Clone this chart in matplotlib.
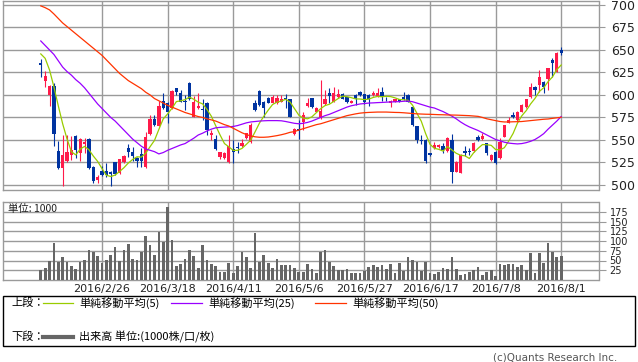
import matplotlib
matplotlib.use('Agg')
import matplotlib.pyplot as plt
import numpy as np
import pandas as pd
from matplotlib.lines import Line2D
from matplotlib.patches import Rectangle

plt.rcParams['font.family'] = ['Noto Sans CJK JP', 'DejaVu Sans']

# ---------------- data ----------------
holidays = ['2016-02-11', '2016-03-21', '2016-04-29', '2016-05-03',
            '2016-05-04', '2016-05-05', '2016-07-18']
dates = pd.bdate_range('2016-02-05', '2016-08-01')
dates = dates[~dates.isin(pd.to_datetime(holidays))]

opens = [636, 615.5, 600, 610, 538, 519, 527, 533, 554, 535,
         546, 551, 520, 505, 516, 516, 514, 525, 513, 525,
         540.7, 537, 529.6, 534, 520.4, 556.3, 573.3, 565.6, 593.3, 590.7,
         585.2, 607.4, 602, 593.3, 613.7, 576, 585.2, 584, 591.5, 555.6,
         551, 531.5, 529.6, 526, 539.6, 542, 543.3, 552, 548, 590.7,
         604.4, 592.6, 597, 591.5, 590.7, 592.6, 597, 595.2, 556.3, 562,
         570.4, 588, 596.3, 581.5, 574, 590, 602.6, 592.6, 598, 601,
         597.4, 591.5, 600, 603.7, 600.7, 600, 600, 599, 603.7, 596,
         590.7, 592.6, 595, 598, 600, 587, 565, 550, 550, 535.2,
         540.7, 542, 543.3, 537.8, 550, 514.8, 513.7, 537.8, 538, 537.8,
         553.7, 550.7, 546.3, 527.8, 537, 529.6, 553.7, 569.3, 577.8, 572,
         581.5, 587, 598, 609.3, 611, 614.8, 617.4, 639, 626, 650]
highs = [640, 627, 611, 613, 549, 556, 556, 554, 555, 552,
         552, 552, 521, 511, 521, 524, 515, 526, 529, 533,
         546, 542.6, 531, 540.7, 559, 578, 578, 593, 602, 592,
         605, 608, 605.6, 600, 614, 599, 602, 596, 592, 561,
         555.6, 537, 537, 555.6, 550, 548, 551, 558, 568.5, 594.4,
         605, 593, 598, 600, 600, 600, 601, 596, 563, 572,
         581.5, 596.3, 597, 587, 616.7, 605.6, 608, 609, 607, 602,
         598, 594, 601, 604, 601, 601, 604, 607.4, 609, 598,
         594, 596, 596, 603, 601, 588, 566, 556, 551, 536,
         548, 546, 546.3, 553, 556.3, 527, 534, 543.3, 541, 548,
         556, 557.4, 547, 534, 538, 552, 567, 576, 581.5, 582,
         590, 596, 613, 610, 627.8, 616, 630, 640.7, 648, 653.7]
lows = [620, 609, 588, 543, 518, 499, 526, 528, 530, 527,
        535, 518, 502, 502, 510, 509, 499, 511, 512, 524,
        531.5, 527, 520, 520.4, 519, 555, 566, 565, 584, 568.5,
        584, 600, 592, 583, 594, 575, 584, 572, 555.6, 550,
        539, 528.5, 529, 524.8, 524, 535, 542, 551, 547, 582,
        588, 576, 591, 591, 590, 592, 585, 575, 555, 550.7,
        561, 587, 586, 581, 573, 589, 591, 592, 597, 595,
        591, 591, 589, 599, 590, 588, 599, 598, 593, 593,
        587, 592, 592, 594, 592, 566, 546.3, 545, 524.8, 532,
        540, 541, 536, 537, 502.6, 514, 513, 532.2, 533.5, 537,
        549, 550, 533.5, 527, 523, 529, 553, 569, 574, 571,
        581, 586, 597, 600, 603.7, 602, 605.6, 620.4, 625, 644.4]
closes = [633, 621, 610, 557, 519, 533, 537, 539, 539, 551,
          548, 519, 504, 509, 511, 511, 512, 512, 528.5, 532,
          537, 532, 527, 527, 553.7, 573.3, 566.7, 588, 585.2, 581.5,
          604.4, 603.7, 592.6, 592, 595.2, 592.6, 587.8, 583, 561, 557.4,
          540, 536.3, 535.2, 543.3, 537, 540.7, 547, 557.4, 566.7, 583.3,
          589, 585.2, 591.5, 598, 596.3, 595.2, 595, 576, 562, 560,
          577.8, 591.5, 587, 585, 582.6, 595, 599, 602.6, 600.7, 596,
          592, 593.7, 595.6, 600, 592.6, 595, 602.6, 601.9, 598, 595,
          593.7, 595.2, 593, 596, 592.6, 566.7, 550, 549, 527, 533.3,
          544.4, 544.4, 539, 552, 514.8, 526, 533.3, 536, 537, 547,
          550, 554.4, 535.2, 533.3, 524, 548, 566.7, 572, 575.2, 581.5,
          589, 595.2, 609.3, 605.6, 620.4, 609.3, 629.6, 635.2, 646.3, 646.3]

ma5 = [645.6, 640.7, 627.8, 609, 588, 568, 551.2, 537, 533.4, 539.8,
       542.8, 539.2, 532.2, 526.2, 518.2, 510.8, 509.4, 511, 514.9, 519.1,
       524.3, 528.3, 531.3, 531, 535.3, 542.6, 549.5, 561.7, 573.4, 578.9,
       585.2, 592.6, 593.5, 594.8, 597.6, 595.2, 592, 590.1, 583.9, 576.4,
       565.8, 555.5, 546, 542.4, 538.4, 538.5, 540.6, 545.1, 549.8, 559,
       568.7, 576.3, 583.1, 589.4, 592, 593.2, 595.2, 592.1, 584.9, 577.6,
       574.2, 573.5, 575.7, 580.3, 584.8, 588.2, 589.7, 592.8, 596, 598.7,
       598.1, 597, 595.6, 595.5, 594.8, 595.4, 597.2, 598.4, 598, 598.5,
       598.2, 596.8, 595, 594.6, 594.1, 588.7, 579.7, 570.9, 557.1, 545.2,
       540.7, 539.6, 537.6, 542.6, 538.9, 535.2, 533, 532.4, 529.4, 535.9,
       540.7, 544.9, 544.7, 544, 539.4, 539, 541.4, 548.8, 557.2, 568.7,
       576.9, 582.6, 590, 596.1, 603.9, 608, 614.8, 620, 628.2, 633.3]
ma25 = [660, 655, 650, 645, 638, 631, 626, 622, 617, 613,
        608, 602, 596, 590, 585, 580, 575, 571, 566, 561,
        556, 551, 547, 543, 540, 538.5, 537, 534.5, 536, 538.5,
        540.5, 542.5, 544.5, 546, 549, 552, 555.5, 557.5, 560, 562,
        563.5, 564, 564.3, 564.6, 565, 566, 567.5, 569, 570, 570.5,
        571, 571.3, 571.5, 571.5, 571.5, 571.3, 570.5, 569.5, 568.5, 568,
        568.5, 569.5, 571, 573, 575, 577, 578.5, 580.5, 582.5, 584.5,
        586.5, 588, 589, 590, 590.5, 591, 591.2, 591.5, 591.7, 592,
        592.2, 592.4, 592.6, 593, 593.2, 592.5, 591, 589.5, 588, 586.5,
        585.5, 583.5, 581.5, 579, 576.5, 573.5, 570, 567, 564.5, 562.5,
        560.5, 558, 555.5, 553, 550.5, 549, 547.5, 546.5, 546, 545.6,
        546, 547, 548.5, 550.5, 553.5, 557, 562, 566.5, 571, 576]
ma50 = [699, 697, 694.5, 690, 685, 680, 676, 672, 668, 664,
        660, 656, 652, 648, 644, 639, 634, 629, 624, 620,
        616, 613, 610, 607, 603, 600, 596, 593.5, 591, 588.5,
        586.5, 584.5, 582.5, 580.5, 579, 577.5, 576, 575, 573.5, 572.3,
        571, 569, 567, 565.5, 563, 560.5, 558, 556, 554.5, 553.5,
        553, 553, 553.3, 554, 554.8, 555.8, 557, 558.5, 559.3, 561,
        562.5, 564, 565.5, 567, 568, 569.5, 571, 572.5, 574, 575.5,
        577, 578, 579, 579.8, 580.3, 580.6, 580.8, 581, 581, 581,
        580.8, 580.6, 580.5, 580.2, 579.8, 579.4, 579, 578.8, 578.6, 578.5,
        578.3, 578.1, 578, 577.8, 577.7, 577.6, 577.4, 577.2, 577, 576.6,
        576.2, 575, 573.5, 572.5, 571.5, 570.5, 570, 570, 570.2, 570.3,
        570.5, 571, 571.5, 572, 572.5, 573, 573.3, 574, 574.6, 575.2]
volume = [25.5, 30.6, 48.5, 95.3, 46.8, 59.6, 46.8, 35.7, 28, 46.8,
          51, 76.6, 72.3, 62, 44.3, 51, 63.8, 83.4, 48.5, 76.6,
          91.9, 52.8, 50.2, 72.3, 112.3, 89.4, 63.8, 123.4, 97.9, 187.2,
          102.1, 35.7, 40.8, 53.6, 76.6, 61.3, 29.8, 89.4, 51, 40.8,
          35.7, 21.3, 21.3, 44.3, 18.7, 35.7, 72.3, 59.6, 31.5, 120.8,
          46.8, 63.8, 44.3, 31.5, 53.6, 38.3, 38.3, 38.3, 31.5, 21.3,
          21.3, 40.8, 28, 18.7, 72.3, 76.6, 46.8, 35.7, 25.5, 25.5,
          28, 18.7, 18.7, 18.7, 23, 32.3, 38.3, 32.3, 38.3, 28,
          40.8, 18.7, 44.3, 23, 57.9, 51, 46.8, 23, 46.8, 18.7,
          15.3, 21.3, 29.8, 28, 57.9, 28, 12.8, 15.3, 21.3, 25.5,
          32.3, 12.8, 21.3, 25.5, 10.2, 40.8, 38.3, 40.8, 40.8, 32.3,
          38.3, 25.5, 69.8, 18.7, 69.8, 44.3, 95.3, 72.3, 59.6, 61.3]

date_labels = ['2016/2/26', '2016/3/18', '2016/4/11', '2016/5/6',
               '2016/5/27', '2016/6/17', '2016/7/8', '2016/8/1']
price_ticks = [500, 525, 550, 575, 600, 625, 650, 675, 700]
volume_ticks = [25, 50, 75, 100, 125, 150, 175]

# ---------------- styling ----------------
UP = '#ff1a4a'
DOWN = '#0033a0'
C_MA5 = '#99cc00'
C_MA25 = '#9900ff'
C_MA50 = '#ff3300'
GRID = '#9a9a9a'
VOLC = '#666666'

W, H = 638, 362
fig = plt.figure(figsize=(W / 100, H / 100), dpi=100)


def fr(x0, y0, x1, y1):
    return [x0 / W, 1 - y1 / H, (x1 - x0) / W, (y1 - y0) / H]


ax = fig.add_axes(fr(3, 1, 598.5, 190))
axv = fig.add_axes(fr(3, 202, 598.5, 280))

x = np.arange(len(closes))
label_str = [f'{d.year}/{d.month}/{d.day}' for d in dates]
tick_pos = [label_str.index(s) for s in date_labels]

o = np.array(opens); c = np.array(closes)
hi = np.array(highs); lo = np.array(lows)
up = c >= o
cols = np.where(up, UP, DOWN)

# lines first (behind candles? original draws candles under lines)
ax.vlines(x, lo, hi, colors=cols, linewidth=0.8, zorder=3)
body_bot = np.minimum(o, c)
body_h = np.maximum(np.abs(c - o), 0.7)
ax.bar(x, body_h, bottom=body_bot, width=0.75, color=cols, linewidth=0, zorder=3)

ax.plot(x, ma5, color=C_MA5, lw=0.9, zorder=4)
ax.plot(x, ma25, color=C_MA25, lw=0.9, zorder=4)
ax.plot(x, ma50, color=C_MA50, lw=0.9, zorder=4)

xlim = (-8.64, 127.53)
for a in (ax, axv):
    a.set_xlim(*xlim)
    for s in a.spines.values():
        s.set_color(GRID)
        s.set_linewidth(1.0)
    a.set_xticks(tick_pos)
    a.grid(True, color=GRID, linewidth=1.0, zorder=0)
    a.set_axisbelow(True)
    a.yaxis.tick_right()
    a.tick_params(axis='y', colors=GRID, labelcolor='#222222')
    a.tick_params(axis='x', length=0)

ax.set_ylim(494.4, 704.4)
ax.set_yticks(price_ticks)
ax.set_yticklabels([str(v) for v in price_ticks], family='DejaVu Sans')
ax.tick_params(axis='y', length=4, pad=5, labelsize=9)
ax.set_xticklabels([])

axv.bar(x, volume, width=0.62, color=VOLC, linewidth=0, zorder=3)
axv.set_ylim(0, 200)
axv.set_yticks(volume_ticks)
axv.set_yticklabels([str(v) for v in volume_ticks], family='DejaVu Sans')
axv.tick_params(axis='y', length=5, pad=3, labelsize=7)
axv.set_xticklabels(date_labels, fontsize=8, family='DejaVu Sans')
axv.tick_params(axis='x', pad=3, labelcolor='#222222')

fig.text(8 / W, 1 - 209 / H, '単位: 1000', fontsize=7.5, va='center', ha='left', color='#222222')

# legend box
fig.add_artist(Rectangle((3 / W, 1 - 346 / H), 632 / W, 50 / H, transform=fig.transFigure,
                         fill=False, edgecolor='black', linewidth=1.0))


def fx(px):
    return px / W


def fy(py):
    return 1 - py / H


row1, row2 = 303, 337
fs = 8
fig.text(fx(11), fy(row1), '上段：', fontsize=fs, va='center', ha='left')
fig.text(fx(11), fy(row2), '下段：', fontsize=fs, va='center', ha='left')
legend_items = [(43, 73, C_MA5, '単純移動平均(5)'),
                (171, 202, C_MA25, '単純移動平均(25)'),
                (315, 346, C_MA50, '単純移動平均(50)')]
for x0, x1, col, txt in legend_items:
    fig.add_artist(Line2D([fx(x0), fx(x1)], [fy(row1), fy(row1)], color=col, lw=0.9,
                          transform=fig.transFigure))
    fig.text(fx(x1 + 6), fy(row1), txt, fontsize=fs, va='center', ha='left')
fig.add_artist(Line2D([fx(43), fx(73)], [fy(row2), fy(row2)], color=VOLC, lw=3,
                      transform=fig.transFigure))
fig.text(fx(79), fy(row2), '出来高 単位:(1000株/口/枚)', fontsize=fs, va='center', ha='left')

fig.text(fx(617), fy(357), '(c)Quants Research Inc.', fontsize=7.5, va='center', ha='right',
         color='#555555', family='DejaVu Sans')

fig.savefig('out.png', dpi=100)
